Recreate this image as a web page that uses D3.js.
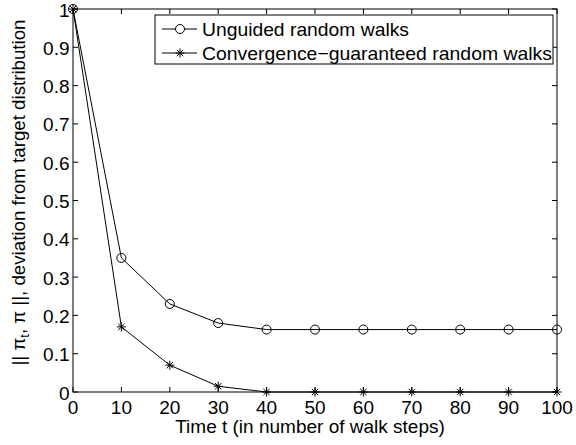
<!DOCTYPE html>
<html><head><meta charset="utf-8">
<script src="https://cdn.jsdelivr.net/npm/d3@7"></script>
<style>body{margin:0;background:#fff}svg{display:block}text{font-family:"Liberation Sans",Arial,sans-serif;fill:#000}</style>
</head><body><svg id="c" width="576" height="445"></svg>
<script>
const steps = [0,10,20,30,40,50,60,70,80,90,100];
const unguided = [1,0.35,0.23,0.18,0.163,0.163,0.163,0.163,0.163,0.163,0.163];
const guaranteed = [1,0.17,0.07,0.015,0,0,0,0,0,0,0];
const xTicks = [0,10,20,30,40,50,60,70,80,90,100];
const yTicks = [0,0.1,0.2,0.3,0.4,0.5,0.6,0.7,0.8,0.9,1];
const seriesNames = ["Unguided random walks","Convergence\u2212guaranteed random walks"];

const svg = d3.select("#c");
const L=73, R=557, T=9, B=392;
const x = d3.scaleLinear().domain([0,100]).range([L,R]);
const y = d3.scaleLinear().domain([0,1]).range([B,T]);
const fs = 19;

// box
svg.append("rect").attr("x",L).attr("y",T).attr("width",R-L).attr("height",B-T)
  .attr("fill","none").attr("stroke","#000").attr("stroke-width",1);

// ticks inward
const tl=5;
const g = svg.append("g").attr("stroke","#000").attr("stroke-width",1);
xTicks.forEach(v=>{
  g.append("line").attr("x1",x(v)).attr("x2",x(v)).attr("y1",B).attr("y2",B-tl);
  g.append("line").attr("x1",x(v)).attr("x2",x(v)).attr("y1",T).attr("y2",T+tl);
});
yTicks.forEach(v=>{
  g.append("line").attr("x1",L).attr("x2",L+tl).attr("y1",y(v)).attr("y2",y(v));
  g.append("line").attr("x1",R).attr("x2",R-tl).attr("y1",y(v)).attr("y2",y(v));
});
svg.selectAll(".xl").data(xTicks).enter().append("text")
  .attr("x",d=>x(d)).attr("y",B+22).attr("text-anchor","middle").attr("font-size",fs).text(d=>d);
svg.selectAll(".yl").data(yTicks).enter().append("text")
  .attr("x",L-3.5).attr("y",d=>y(d)+7.5).attr("text-anchor","end").attr("font-size",fs).text(d=>d);

svg.append("text").attr("x",310).attr("y",B+41).attr("text-anchor","middle").attr("font-size",fs)
  .text("Time t (in number of walk steps)");

const yl = svg.append("text").attr("transform","translate(25,"+(192.5)+") rotate(-90)")
  .attr("text-anchor","middle").attr("font-size",19)
  .attr("textLength",346).attr("lengthAdjust","spacingAndGlyphs");
yl.append("tspan").text("|| \u03C0");
yl.append("tspan").attr("font-size",13).attr("dy",4).text("t");
yl.append("tspan").attr("dy",-4).text(", \u03C0 ||, deviation from target distribution");

const line = d3.line().x((d,i)=>x(steps[i])).y(d=>y(d));
function star(gg,cx,cy,r){
  for(let k=0;k<4;k++){
    const a=k*Math.PI/4;
    gg.append("line").attr("x1",cx-r*Math.cos(a)).attr("x2",cx+r*Math.cos(a))
      .attr("y1",cy-r*Math.sin(a)).attr("y2",cy+r*Math.sin(a)).attr("stroke","#000").attr("stroke-width",1);
  }
}
svg.append("path").attr("d",line(unguided)).attr("fill","none").attr("stroke","#000").attr("stroke-width",1);
svg.append("path").attr("d",line(guaranteed)).attr("fill","none").attr("stroke","#000").attr("stroke-width",1);
unguided.forEach((v,i)=>svg.append("circle").attr("cx",x(steps[i])).attr("cy",y(v)).attr("r",4.5)
  .attr("fill","none").attr("stroke","#000").attr("stroke-width",1));
const sg = svg.append("g");
guaranteed.forEach((v,i)=>star(sg,x(steps[i]),y(v),4.5));

// legend
const lg = svg.append("g");
lg.append("rect").attr("x",155).attr("y",15).attr("width",398).attr("height",49)
  .attr("fill","#fff").attr("stroke","#000").attr("stroke-width",1);
const rows=[29,53];
const legendLen=[207,350];
rows.forEach((ry,i)=>{
  lg.append("line").attr("x1",162).attr("x2",197).attr("y1",ry).attr("y2",ry).attr("stroke","#000");
  if(i===0) lg.append("circle").attr("cx",180).attr("cy",ry).attr("r",4.5).attr("fill","#fff").attr("stroke","#000");
  else star(lg,180,ry,4.5);
  lg.append("text").attr("x",202).attr("y",ry+7).attr("font-size",fs)
    .attr("textLength",legendLen[i]).attr("lengthAdjust","spacingAndGlyphs").text(seriesNames[i]);
});
</script></body></html>
